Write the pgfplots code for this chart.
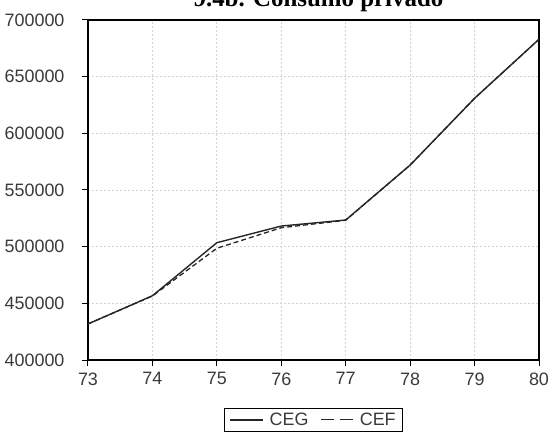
\documentclass[border=0pt]{standalone}
\usepackage{pgfplots}
\pgfplotsset{compat=1.18}
\usepackage{fontspec}
\setmainfont{Liberation Sans}
\newfontfamily\titlefont{Liberation Serif}
\definecolor{tickgray}{HTML}{3A3A3A}
\definecolor{gridgray}{HTML}{D2D2D2}
\begin{document}
\begin{tikzpicture}
\begin{axis}[
  scale only axis,
  width=451bp, height=340bp,
  xmin=73, xmax=80, ymin=400000, ymax=700000,
  xtick={73,74,75,76,77,78,79,80},
  ytick={400000,450000,500000,550000,600000,650000,700000},
  /pgf/number format/.cd, fixed, 1000 sep={}, assume math mode=true,
  /pgfplots/.cd,
  scaled y ticks=false,
  tick pos=left,
  tick align=outside,
  major tick length=6bp,
  every tick/.style={black, line width=1bp},
  axis line style={black, line width=1.6bp},
  grid=major,
  major grid style={gridgray, line width=0.8bp, dash pattern=on 2bp off 2bp},
  tick label style={font=\fontsize{18}{20}\selectfont, text=tickgray},
  xticklabel style={yshift=-3bp},
  yticklabel style={anchor=east, xshift=-14bp},
  legend columns=2,
  legend style={
    at={(axis description cs:0.5,-0.141)}, anchor=north,
    font=\fontsize{18}{19}\selectfont,
    draw=black, line width=0.8bp, text=tickgray,
    inner xsep=5bp, inner ysep=2.5bp,
    /tikz/every odd column/.append style={column sep=4bp},
    /tikz/every even column/.append style={column sep=10bp},
  },
  legend image code/.code={\draw[#1] (0bp,0bp) -- (33bp,0bp);},
]
\addplot[black!85, line width=1.4bp] coordinates {
  (73,431800) (74,456700) (75,503500) (76,518200) (77,523500) (78,572000) (79,630900) (80,683000)
};
\addlegendentry{CEG}
\addplot[black!85, line width=1.3bp, dash pattern=on 5bp off 3bp,
  legend image code/.code={\draw[black!85, line width=1.3bp, dash pattern=on 13bp off 6bp] (0bp,0bp) -- (32bp,0bp);}] coordinates {
  (73,431800) (74,456500) (75,498600) (76,516700) (77,523300) (78,572000) (79,630900) (80,683000)
};
\addlegendentry{CEF}
\end{axis}
\node[anchor=base, font=\titlefont\bfseries\fontsize{25}{28}\selectfont] at (230.5bp,353bp) {9.4b. Consumo privado};
\pgfresetboundingbox
\path[use as bounding box] (-88bp,-77bp) rectangle (464bp,360bp);
\end{tikzpicture}
\end{document}
